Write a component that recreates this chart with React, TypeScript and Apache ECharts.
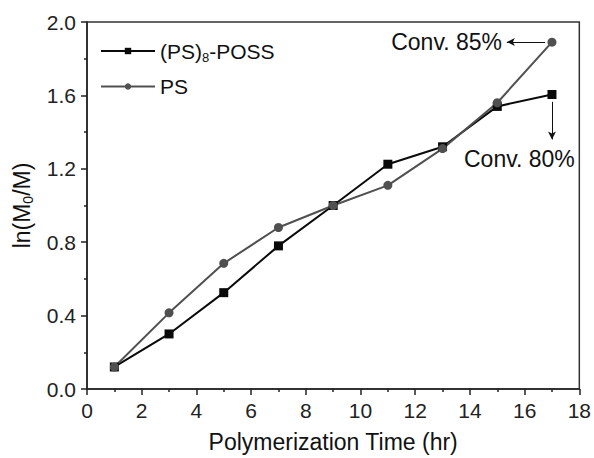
import React, { useEffect, useRef } from "react";
import * as echarts from "echarts";

const timeHours = [1, 3, 5, 7, 9, 11, 13, 15, 17];
const poss8Values = [0.12, 0.3, 0.525, 0.78, 1.0, 1.225, 1.32, 1.54, 1.605];
const psValues = [0.12, 0.415, 0.685, 0.88, 1.0, 1.11, 1.31, 1.56, 1.89];
const xTicks = { min: 0, max: 18, interval: 2 };
const yTicks = { min: 0, max: 2, interval: 0.4 };

const FONT = "Liberation Sans, Arial, sans-serif";

export default function App() {
  const ref = useRef<HTMLDivElement>(null);
  useEffect(() => {
    const chart = echarts.init(ref.current!, undefined, { renderer: "svg" });
    const axisCommon = {
      axisLine: { show: true, lineStyle: { color: "#222", width: 1.5 } },
      axisTick: { show: true, inside: false, length: 6, lineStyle: { color: "#222", width: 1.5 } },
      minorTick: { show: true, splitNumber: 2, length: 3, lineStyle: { color: "#222", width: 1.5 } },
      splitLine: { show: false },
      minorSplitLine: { show: false },
    };
    const arrowMark = (from: number[], to: number[]) => ({
      silent: true,
      symbol: ["none", "arrow"],
      symbolSize: [6, 8],
      label: { show: false },
      lineStyle: { color: "#111", width: 1, type: "solid" },
      data: [[{ coord: from }, { coord: to }]],
    });
    const option: any = {
      animation: false,
      backgroundColor: "#fff",
      textStyle: { fontFamily: FONT },
      grid: {
        left: 87,
        right: 11,
        top: 22,
        bottom: 68,
        show: true,
        borderColor: "#333",
        borderWidth: 1.5,
        backgroundColor: "transparent",
      },
      legend: {
        orient: "vertical",
        left: 95,
        top: 34,
        itemWidth: 54,
        itemHeight: 8,
        itemGap: 11,
        data: ["(PS)8-POSS", "PS"],
        formatter: (n: string) => (n === "(PS)8-POSS" ? "(PS){sub|8}-POSS" : n),
        textStyle: {
          fontFamily: FONT,
          fontSize: 21,
          color: "#111",
          lineHeight: 24,
          rich: {
            sub: { fontSize: 13, fontFamily: FONT, color: "#111", padding: [12, 0, 0, 0] },
          },
        },
      },
      xAxis: {
        type: "value",
        ...xTicks,
        name: "Polymerization Time (hr)",
        nameLocation: "middle",
        nameGap: 41,
        nameTextStyle: { fontFamily: FONT, fontSize: 23, color: "#111" },
        axisLabel: { fontFamily: FONT, fontSize: 21, color: "#222", margin: 11 },
        ...axisCommon,
      },
      yAxis: {
        type: "value",
        ...yTicks,
        name: "ln(M{sub|0}/M)",
        nameLocation: "middle",
        nameRotate: 90,
        nameGap: 52,
        nameTextStyle: {
          fontFamily: FONT,
          fontSize: 23,
          color: "#111",
          rich: { sub: { fontSize: 14, fontFamily: FONT, color: "#111", padding: [12, 0, 0, 0] } },
        },
        axisLabel: {
          fontFamily: FONT,
          fontSize: 21,
          color: "#222",
          margin: 11,
          formatter: (v: number) => v.toFixed(1),
        },
        ...axisCommon,
      },
      series: [
        {
          name: "(PS)8-POSS",
          type: "line",
          data: timeHours.map((t, i) => [t, poss8Values[i]]),
          symbol: "rect",
          symbolSize: 9,
          itemStyle: { color: "#0a0a0a" },
          lineStyle: { color: "#0a0a0a", width: 2 },
          markLine: arrowMark([17, 1.565], [17, 1.36]),
        },
        {
          name: "PS",
          type: "line",
          data: timeHours.map((t, i) => [t, psValues[i]]),
          symbol: "circle",
          symbolSize: 9,
          itemStyle: { color: "#505050" },
          lineStyle: { color: "#505050", width: 2 },
          markLine: arrowMark([16.75, 1.891], [15.35, 1.891]),
        },
      ],
      graphic: [
        {
          type: "text",
          right: 594 - 502,
          top: 30,
          style: { text: "Conv. 85%", fontFamily: FONT, fontSize: 23, fill: "#111" },
        },
        {
          type: "text",
          left: 464,
          top: 147,
          style: { text: "Conv. 80%", fontFamily: FONT, fontSize: 23, fill: "#111" },
        },
      ],
    };
    chart.setOption(option);
    return () => chart.dispose();
  }, []);
  return <div ref={ref} style={{ width: 594, height: 458, position: "absolute", left: 0, top: 0 }} />;
}
